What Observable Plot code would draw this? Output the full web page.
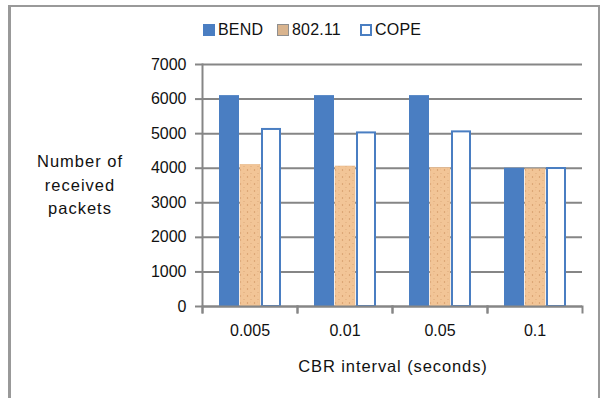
<!DOCTYPE html>
<html><head><meta charset="utf-8">
<script src="https://cdn.jsdelivr.net/npm/d3@7"></script>
<script src="https://cdn.jsdelivr.net/npm/@observablehq/plot@0.6"></script>
<style>
body{margin:0;background:#fff;}
#wrap{position:relative;width:605px;height:398px;overflow:hidden;font-family:"Liberation Sans",Arial,sans-serif;color:#111;}
#border{position:absolute;left:8px;top:5px;width:592px;height:400px;border-top:2px solid #999;border-left:3px solid #999;border-right:2px solid #999;box-sizing:border-box;}
#chart{position:absolute;left:0;top:0;}
.lbl{position:absolute;font-size:16.5px;letter-spacing:1px;white-space:nowrap;}
#ytitle{left:15px;width:130px;top:150px;text-align:center;line-height:23.5px;}
#xtitle{left:283px;width:220px;top:357px;text-align:center;letter-spacing:0.9px;}
.it{position:absolute;top:21px;font-size:16px;display:flex;align-items:center;letter-spacing:0.2px;white-space:nowrap;}
.sw{display:inline-block;width:12px;height:12px;margin-right:3px;box-sizing:border-box;}
</style></head>
<body>
<div id="wrap">
  <div id="border"></div>
  <div id="chart"></div>
  <div id="legend"></div>
  <div class="lbl" id="ytitle">Number of<br>received<br>packets</div>
  <div class="lbl" id="xtitle">CBR interval (seconds)</div>
</div>
<script>
const categories = ["0.005", "0.01", "0.05", "0.1"];
const series = ["BEND", "802.11", "COPE"];
const bendValues = [6100, 6100, 6100, 4000];
const ieeeValues = [4100, 4050, 4010, 3970];
const copeValues = [5150, 5050, 5080, 4020];
const yTicks = [0, 1000, 2000, 3000, 4000, 5000, 6000, 7000];

const blue = "#4a7ec2";
const gray = "#868686";
const table = categories.flatMap((c, i) => [
  {cat: c, s: "BEND", v: bendValues[i]},
  {cat: c, s: "802.11", v: ieeeValues[i]},
  {cat: c, s: "COPE", v: copeValues[i]}
]);

const W = 605, H = 398, mT = 64, mB = 92, mL = 201, mR = 22;
const innerH = H - mT - mB;

const chart = Plot.plot({
  width: W, height: H,
  marginLeft: mL, marginRight: mR, marginTop: mT, marginBottom: mB,
  style: {fontFamily: "'Liberation Sans', Arial, sans-serif", fontSize: "16px", color: "#111", background: "transparent", overflow: "visible"},
  fx: {domain: categories, padding: 0, label: null},
  x: {domain: series, paddingInner: 0.05, paddingOuter: 0.72, axis: null},
  y: {domain: [0, 7000], label: null},
  marks: [
    Plot.gridY(yTicks, {stroke: gray, strokeOpacity: 1, strokeWidth: 2}),
    Plot.barY(table.filter(d => d.s === "BEND"), {fx: "cat", x: "s", y: "v", fill: blue}),
    Plot.barY(table.filter(d => d.s === "802.11"), {fx: "cat", x: "s", y: "v", fill: "url(#tex)", stroke: "#e6b88a", strokeWidth: 0.5}),
    Plot.barY(table.filter(d => d.s === "COPE"), {fx: "cat", x: "s", y: "v", fill: "white", stroke: blue, strokeWidth: 2, insetLeft: 1, insetRight: 1, insetTop: 1}),
    Plot.ruleY([0], {stroke: gray, strokeWidth: 2}),
    Plot.frame({anchor: "left", stroke: gray, strokeWidth: 2, insetTop: innerH, insetBottom: -6}),
    Plot.frame({anchor: "right", stroke: gray, strokeWidth: 2, insetTop: innerH, insetBottom: -6}),
    Plot.frame({anchor: "left", facet: "super", stroke: gray, strokeWidth: 2, insetBottom: -6}),
    Plot.axisY(yTicks, {tickSize: 7, stroke: gray, strokeWidth: 2, tickPadding: 9, label: null, fill: "#111", tickFormat: d => String(d), style: {letterSpacing: "1px", fontSize: "16px"}}),
    Plot.axisFx({anchor: "bottom", tickSize: 0, tickPadding: 18, label: null, fill: "#111", style: {letterSpacing: "1px", fontSize: "16px"}})
  ]
});

const defs = document.createElementNS("http://www.w3.org/2000/svg", "defs");
defs.innerHTML = '<pattern id="tex" width="7" height="7" patternUnits="userSpaceOnUse">' +
  '<rect width="7" height="7" fill="#f2c597"/>' +
  '<circle cx="1.5" cy="2" r="0.7" fill="#cf9563"/>' +
  '<circle cx="5" cy="5.5" r="0.6" fill="#dba676"/>' +
  '<circle cx="4.5" cy="1" r="0.4" fill="#e8b07e"/></pattern>';
chart.insertBefore(defs, chart.firstChild);
document.getElementById("chart").appendChild(chart);

const legendStyles = {
  "BEND": `background:${blue};`,
  "802.11": `background:#d9b48e;border:1px solid #8f8f8f;`,
  "COPE": `background:#fff;border:2px solid ${blue};`
};
const legendLeft = {"BEND": 203, "802.11": 277, "COPE": 360};
const wrap = document.getElementById("wrap");
series.forEach(s => {
  const it = document.createElement("span");
  it.className = "it";
  it.style.left = legendLeft[s] + "px";
  it.innerHTML = `<span class="sw" style="${legendStyles[s]}"></span>${s}`;
  wrap.appendChild(it);
});
</script>
</body></html>
